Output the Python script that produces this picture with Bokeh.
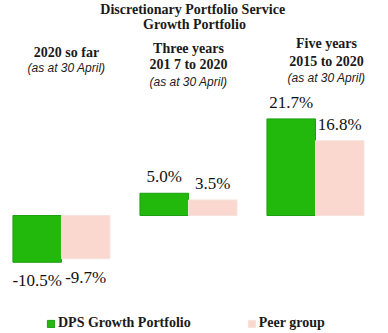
from bokeh.plotting import figure
from bokeh.models import ColumnDataSource, Range1d, Label, Legend, LegendItem
from bokeh.core.properties import value
from bokeh.embed import file_html
from bokeh.resources import INLINE

# ---- data ----
periods = ["2020 so far", "Three years", "Five years"]
period_sub = ["", "201 7 to 2020", "2015 to 2020"]
dps = [-10.5, 5.0, 21.7]
peer = [-9.7, 3.5, 16.8]
series_names = ["DPS Growth Portfolio", "Peer group"]
title_lines = ["Discretionary  Portfolio Service", "Growth Portfolio"]
as_at = "(as at 30 April)"

W, H = 388, 333
GREEN, GREEN_LINE = "#22B90C", "#1C9E12"
PINK, PINK_LINE = "#FAD8D0", "#F6E2DC"
SERIF = "Liberation Serif"

p = figure(width=W, height=H, output_backend="svg", toolbar_location=None,
           x_range=Range1d(-0.480, 2.575), y_range=Range1d(-26.5, 48.3),
           min_border=0, outline_line_color=None)
p.axis.visible = False
p.grid.visible = False
p.background_fill_color = "white"
p.border_fill_color = "white"

bw = 0.382
idx = list(range(len(periods)))
src_d = ColumnDataSource(dict(x=[i - bw / 2 for i in idx], v=dps,
                              lab=[f"{v:.1f}%" for v in dps]))
src_p = ColumnDataSource(dict(x=[i + bw / 2 for i in idx], v=peer,
                              lab=[f"{v:.1f}%" for v in peer]))

r1 = p.vbar(x="x", top="v", bottom=0, width=bw, source=src_d,
            fill_color=GREEN, line_color=GREEN_LINE, line_width=1)
r2 = p.vbar(x="x", top="v", bottom=0, width=bw, source=src_p,
            fill_color=PINK, line_color=PINK_LINE, line_width=1)

# value labels
for src, vals in ((src_d, dps), (src_p, peer)):
    pos = ColumnDataSource(dict(x=[src.data["x"][i] for i in idx if vals[i] >= 0],
                                y=[vals[i] for i in idx if vals[i] >= 0],
                                t=[src.data["lab"][i] for i in idx if vals[i] >= 0]))
    neg = ColumnDataSource(dict(x=[src.data["x"][i] for i in idx if vals[i] < 0],
                                y=[vals[i] for i in idx if vals[i] < 0],
                                t=[src.data["lab"][i] for i in idx if vals[i] < 0]))
    p.text(x="x", y="y", text="t", source=pos, text_align="center",
           text_baseline="bottom", y_offset=-7, text_font=value(SERIF),
           text_font_size="17px", text_color="#111111")
    p.text(x="x", y="y", text="t", source=neg, text_align="center",
           text_baseline="top", y_offset=9, text_font=value(SERIF),
           text_font_size="17px", text_color="#111111")

# title
for k, t in enumerate(title_lines):
    p.add_layout(Label(x=W / 2, y=H - 9 - 15 * k, x_units="screen", y_units="screen",
                       text=t, text_align="center", text_baseline="middle",
                       text_font=SERIF, text_font_style="bold",
                       text_font_size="14px", text_color="#1a1a1a"))

# period headers
head_x = [66, 188, 326]
head_y = [[52, 67], [48, 64, 81], [43, 61, 77]]
for i in idx:
    lines = [periods[i]] + ([period_sub[i]] if period_sub[i] else []) + [as_at]
    for j, t in enumerate(lines):
        italic = (t == as_at)
        p.add_layout(Label(x=head_x[i], y=H - head_y[i][j], x_units="screen",
                           y_units="screen", text=t, text_align="center",
                           text_baseline="middle",
                           text_font="Liberation Sans" if italic else SERIF,
                           text_font_style="italic" if italic else "bold",
                           text_font_size="12px" if italic else "14px",
                           text_color="#1a1a1a"))

legend = Legend(items=[LegendItem(label=series_names[0], renderers=[r1]),
                       LegendItem(label=series_names[1], renderers=[r2])],
                orientation="horizontal", location=(46, 2), padding=0, margin=0,
                spacing=56, glyph_width=9, glyph_height=9, label_standoff=3,
                label_text_font=SERIF, label_text_font_style="bold",
                label_text_font_size="14px", label_text_color="#1a1a1a",
                background_fill_alpha=0, border_line_color=None)
p.add_layout(legend)

open("out.html", "w").write(file_html(p, INLINE))
